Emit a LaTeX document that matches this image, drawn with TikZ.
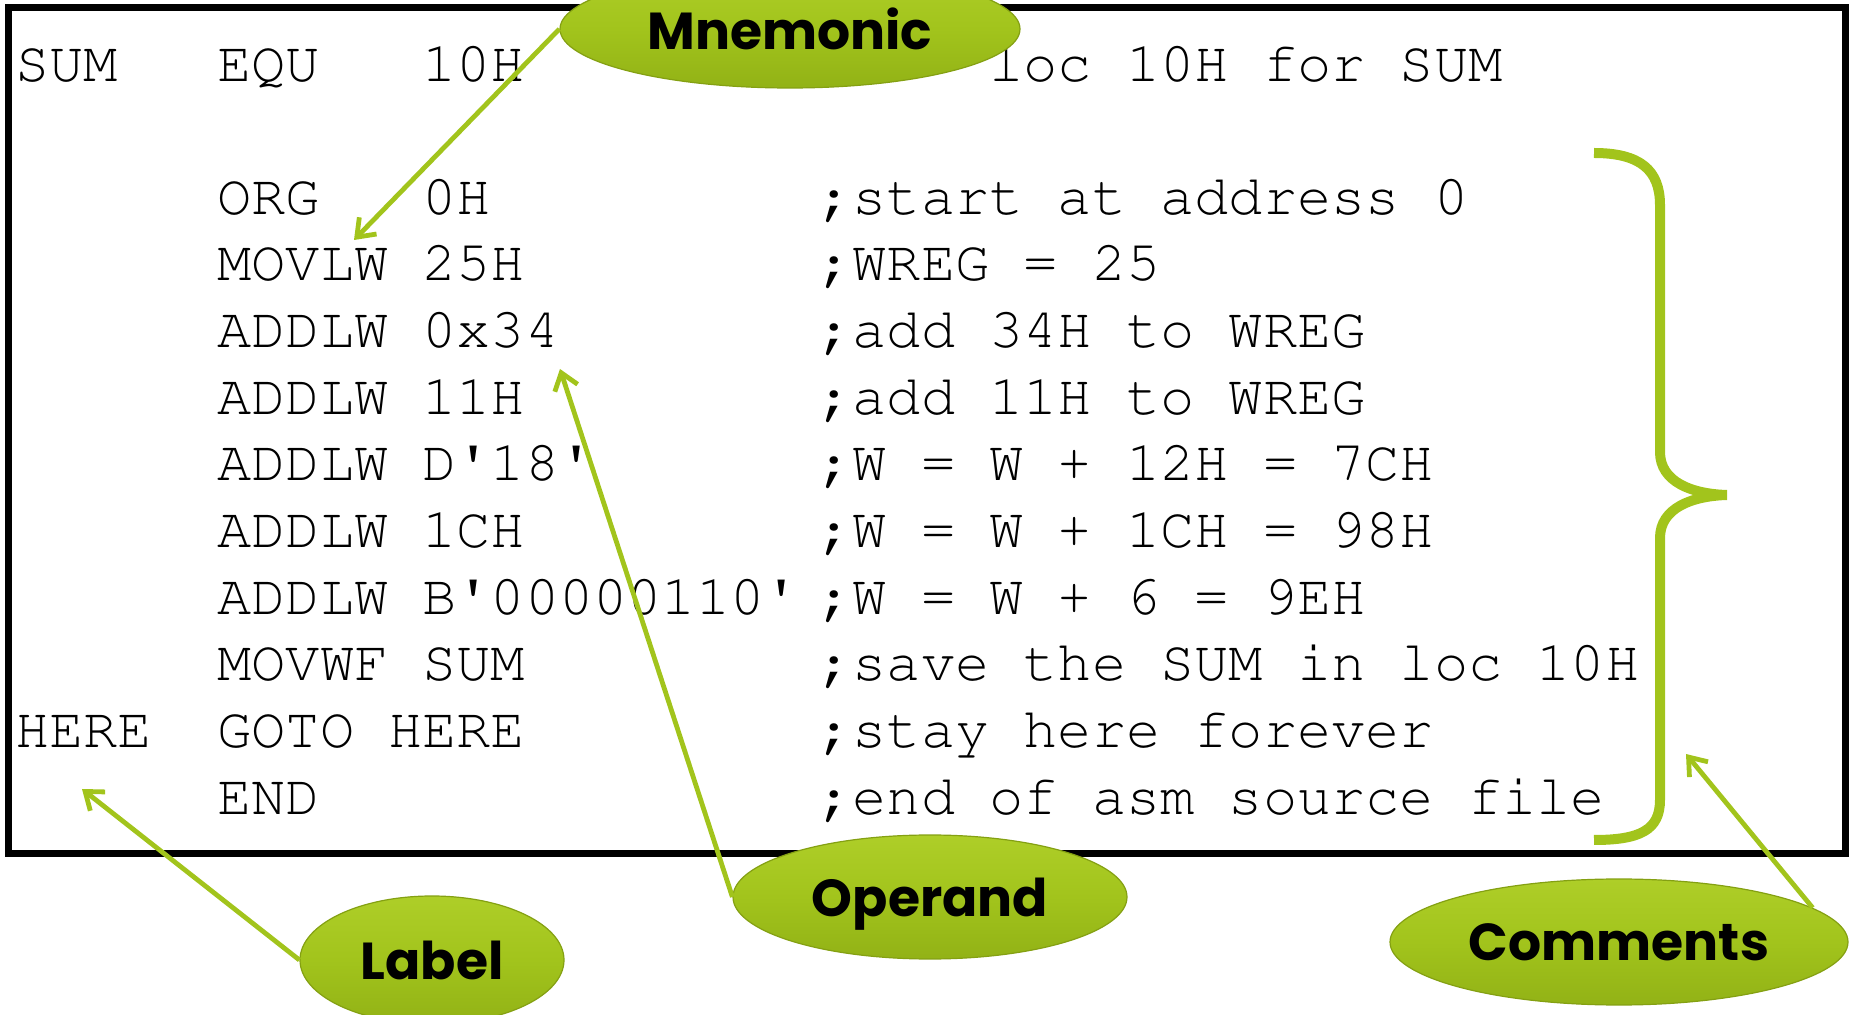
\documentclass[tikz,border=0pt]{standalone}
\usepackage[T1,TU]{fontenc}
\usepackage{fontspec}
\usetikzlibrary{shapes.geometric,arrows.meta}

\newfontfamily\calloutfont{Poppins}
\newcommand{\codefont}{\fontencoding{T1}\fontfamily{pcr}\fontsize{28.5}{34}\selectfont}
\newcommand{\q}{\textquotesingle}

\definecolor{leaf}{RGB}{162,196,28}
\definecolor{leaflight}{RGB}{174,206,40}
\definecolor{leafdark}{RGB}{146,178,22}
\definecolor{leafrim}{RGB}{132,160,18}

\tikzset{
  code/.style={anchor=base west, inner sep=0pt, font=\codefont},
  callout/.style={ellipse, inner sep=0pt, text depth=0pt, draw=leafrim, line width=0.6pt,
    top color=leaflight, bottom color=leafdark, middle color=leaf,
    font=\calloutfont\bfseries\fontsize{26}{30}\selectfont},
  ptr/.style={->, >={Straight Barb[length=8pt,width=12pt]}, draw=leaf, line width=2.4pt}
}

\begin{document}
\begin{tikzpicture}[x=0.5pt,y=-0.5pt]

    \useasboundingbox (0,0) rectangle (1849,1015);
    \clip (0,0) rectangle (1849,1015);

    % Listing frame
    \draw[line width=3.5pt] (8.5,8) rectangle (1845.5,854);

    % Program text
    \node[code] (sum)   at (15,82)  {SUM};
    \node[code] (equ)   at (217,82) {EQU\ \ \ 10H};
    \node[code] (cequ)  at (989,82) {loc 10H for SUM};

    \node[code] (org)   at (217,215) {ORG\ \ \ 0H};
    \node[code] (corg)  at (818,215) {;start at address 0};
    \node[code] (movlw) at (217,281) {MOVLW 25H};
    \node[code] (cmovlw) at (818,281) {;WREG = 25};
    \node[code] (adda)  at (217,348) {ADDLW 0x34};
    \node[code] (cadda) at (818,348) {;add 34H to WREG};
    \node[code] (addb)  at (217,415) {ADDLW 11H};
    \node[code] (caddb) at (818,415) {;add 11H to WREG};
    \node[code] (addc)  at (217,481) {ADDLW D\q18\q};
    \node[code] (caddc) at (818,481) {;W = W + 12H = 7CH};
    \node[code] (addd)  at (217,548) {ADDLW 1CH};
    \node[code] (caddd) at (818,548) {;W = W + 1CH = 98H};
    \node[code] (adde)  at (217,615) {ADDLW B\q00000110\q};
    \node[code] (cadde) at (818,615) {;W = W + 6 = 9EH};
    \node[code] (movwf) at (217,681) {MOVWF SUM};
    \node[code] (cmovwf) at (818,681) {;save the SUM in loc 10H};
    \node[code] (here)  at (15,748)  {HERE};
    \node[code] (goto)  at (217,748) {GOTO HERE};
    \node[code] (cgoto) at (818,748) {;stay here forever};
    \node[code] (end)   at (217,815) {END};
    \node[code] (cend)  at (818,815) {;end of asm source file};

    % Brace over the comments
    \draw[draw=leaf, line width=5pt] (1594,153) .. controls (1640,153) and (1660,170) .. (1660,205)
        -- (1660,452) .. controls (1660,482) and (1692,494) .. (1727,495)
        .. controls (1692,496) and (1660,508) .. (1660,538)
        -- (1660,800) .. controls (1660,830) and (1640,840) .. (1594,840);

    % Arrow tips
    \coordinate (mnemtip) at (354,240);
    \coordinate (optip)   at (560,369);
    \coordinate (lbltip)  at (82,789);
    \coordinate (cmtip)   at (1686,754);

    % Callouts
    \node[callout, minimum width=230pt, minimum height=59pt] (mnem) at (790,29)  {Mnemonic};
    \node[callout, minimum width=197pt, minimum height=62pt] (oper) at (930,897) {Operand};
    \node[callout, minimum width=132pt, minimum height=64pt] (lbl)  at (432,960) {Label};
    \node[callout, minimum width=229pt, minimum height=63pt] (cmt)  at (1619,942) {Comments};

    \draw[ptr] (mnem.west) -- (mnemtip);
    \draw[ptr] (oper.west) -- (optip);
    \draw[ptr] (lbl.west) -- (lbltip);
    \draw[ptr] (cmt.10) -- (cmtip);
\end{tikzpicture}
\end{document}
